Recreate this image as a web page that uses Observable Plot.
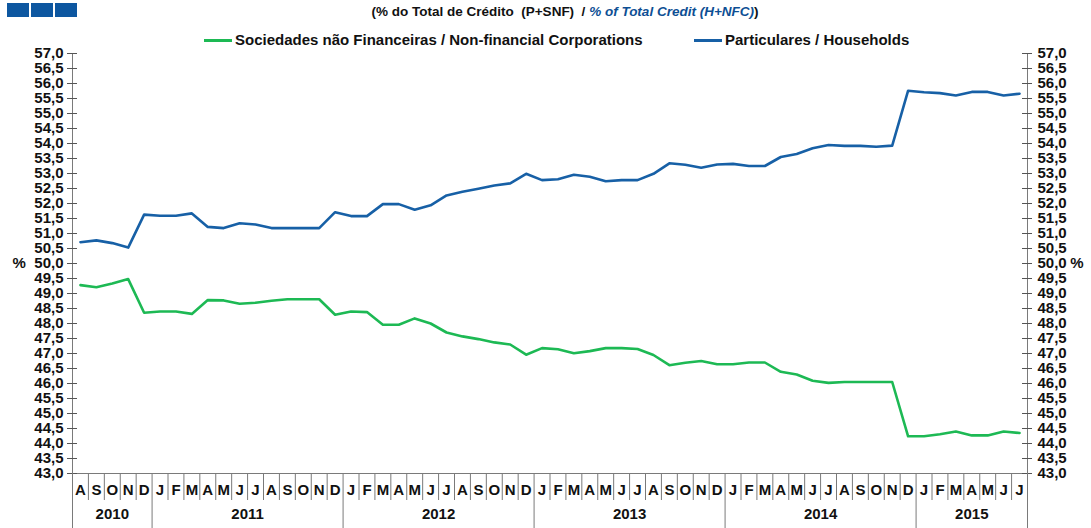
<!DOCTYPE html>
<html>
<head>
<meta charset="utf-8">
<script src="https://cdn.jsdelivr.net/npm/d3@7"></script>
<script src="https://cdn.jsdelivr.net/npm/@observablehq/plot@0.6"></script>
<style>
  html, body { margin: 0; padding: 0; background: #fff; }
  #wrap { position: relative; width: 1091px; height: 528px; overflow: hidden; font-family: "Liberation Sans", Arial, sans-serif; }
  #chart { position: absolute; left: 0; top: 0; }
  .logo { position: absolute; top: 3px; width: 22px; height: 14px; background: #0d57a0; }
  #title { position: absolute; top: 4px; left: 565px; transform: translateX(-50%); white-space: nowrap; font-size: 13.5px; font-weight: bold; color: #111; }
  #title .en { color: #0d4f94; font-style: italic; }
  .leg { position: absolute; top: 31px; white-space: nowrap; font-size: 15px; font-weight: bold; color: #111; }
  .sw { position: absolute; top: 39px; height: 3px; width: 28px; }
</style>
</head>
<body>
<div id="wrap">
  <div id="chart"></div>
  <div class="logo" style="left:7px"></div>
  <div class="logo" style="left:31px"></div>
  <div class="logo" style="left:55px"></div>
  <div id="title">(% do Total de Crédito&nbsp; (P+SNF)&nbsp; / <span class="en">% of Total Credit (H+NFC)</span>)</div>
  <div class="sw" id="sw0" style="left:204px"></div>
  <div class="leg" id="lg0" style="left:235px"></div>
  <div class="sw" id="sw1" style="left:694px"></div>
  <div class="leg" id="lg1" style="left:725px"></div>
</div>
<script>
// ---- data ----
const periods = [
  "2010-08","2010-09","2010-10","2010-11","2010-12",
  "2011-01","2011-02","2011-03","2011-04","2011-05","2011-06","2011-07","2011-08","2011-09","2011-10","2011-11","2011-12",
  "2012-01","2012-02","2012-03","2012-04","2012-05","2012-06","2012-07","2012-08","2012-09","2012-10","2012-11","2012-12",
  "2013-01","2013-02","2013-03","2013-04","2013-05","2013-06","2013-07","2013-08","2013-09","2013-10","2013-11","2013-12",
  "2014-01","2014-02","2014-03","2014-04","2014-05","2014-06","2014-07","2014-08","2014-09","2014-10","2014-11","2014-12",
  "2015-01","2015-02","2015-03","2015-04","2015-05","2015-06","2015-07"
];
const monthLetters = ["J","F","M","A","M","J","J","A","S","O","N","D"];
const years = ["2010","2011","2012","2013","2014","2015"];

const seriesNames = ["Sociedades não Financeiras / Non-financial Corporations", "Particulares / Households"];
const seriesColors = ["#1db954", "#1760a6"];

const corporations = [
  49.28, 49.21, 49.33, 49.48, 48.36,
  48.40, 48.40, 48.32, 48.78, 48.77, 48.66, 48.69, 48.76, 48.81, 48.81, 48.81, 48.29,
  48.40, 48.38, 47.96, 47.96, 48.17, 48.00, 47.70, 47.57, 47.48, 47.37, 47.30, 46.96,
  47.18, 47.14, 47.01, 47.08, 47.18, 47.18, 47.15, 46.95, 46.61, 46.69, 46.75, 46.64,
  46.64, 46.70, 46.70, 46.39, 46.30, 46.09, 46.02, 46.05, 46.05, 46.05, 46.05, 44.24,
  44.24, 44.31, 44.40, 44.27, 44.27, 44.40, 44.35
];
const households = [
  50.71, 50.77, 50.68, 50.53, 51.63,
  51.59, 51.59, 51.67, 51.22, 51.18, 51.34, 51.30, 51.18, 51.18, 51.18, 51.18, 51.71,
  51.58, 51.58, 51.98, 51.98, 51.79, 51.94, 52.27, 52.39, 52.49, 52.60, 52.67, 52.99,
  52.78, 52.81, 52.96, 52.89, 52.74, 52.78, 52.78, 52.99, 53.34, 53.29, 53.19, 53.30,
  53.32, 53.25, 53.25, 53.55, 53.65, 53.84, 53.95, 53.92, 53.92, 53.89, 53.93, 55.76,
  55.71, 55.68, 55.60, 55.72, 55.72, 55.60, 55.66
];

const yTicks = d3.range(43, 57.001, 0.5);
const yUnit = "%";
const yUnitAt = 50;

// ---- layout ----
const W = 1091, H = 528;
const mL = 72, mR = 64, mT = 53, mB = 55;
const xDom = [-0.5, periods.length - 0.5];
const yDom = [43, 57];
const axisColor = "#7a7a7a";
const tickColor = "#555";

const fmt = d => d3.format(".1f")(d).replace(".", ",");
const idx = periods.map((p, i) => i);
const monthOf = p => +p.slice(5) - 1;
const yearOf = p => p.slice(0, 4);

// boundaries
const monthBounds = idx.slice(1).filter(i => monthOf(periods[i]) !== 0).map(i => i - 0.5);
const yearBounds = [xDom[0], ...idx.filter(i => i > 0 && monthOf(periods[i]) === 0).map(i => i - 0.5), xDom[1]];
const yearCenters = years.map(y => {
  const ii = idx.filter(i => yearOf(periods[i]) === y);
  return {year: y, x: (ii[0] + ii[ii.length - 1]) / 2};
});

const chart = Plot.plot({
  width: W, height: H,
  marginLeft: mL, marginRight: mR, marginTop: mT, marginBottom: mB,
  style: {fontFamily: "'Liberation Sans', Arial, sans-serif", fontSize: "15px", fontWeight: "bold", color: "#111", background: "transparent", overflow: "visible"},
  x: {domain: xDom, axis: null},
  y: {domain: yDom, axis: null},
  marks: [
    // axis lines
    Plot.ruleX([xDom[0], xDom[1]], {x: d => d, y1: yDom[0], y2: yDom[1], stroke: axisColor}),
    Plot.ruleY([yDom[0]], {y: d => d, stroke: axisColor}),
    // crossing tick marks
    Plot.ruleY(yTicks, {y: d => d, x1: xDom[0], x2: xDom[0], insetLeft: -5, insetRight: -5, stroke: tickColor}),
    Plot.ruleY(yTicks, {y: d => d, x1: xDom[1], x2: xDom[1], insetLeft: -5, insetRight: -5, stroke: tickColor}),
    // tick labels
    Plot.text(yTicks, {y: d => d, text: fmt, frameAnchor: "left", textAnchor: "end", dx: -9}),
    Plot.text(yTicks, {y: d => d, text: fmt, frameAnchor: "right", textAnchor: "start", dx: 10}),
    Plot.text([yUnit], {y: () => yUnitAt, text: d => d, frameAnchor: "left", dx: -60}),
    Plot.text([yUnit], {y: () => yUnitAt, text: d => d, frameAnchor: "right", dx: 56}),
    // month / year separators below
    Plot.ruleX(monthBounds, {x: d => d, y1: yDom[0], y2: yDom[0], insetBottom: -27, stroke: axisColor}),
    Plot.ruleX(yearBounds, {x: d => d, y1: yDom[0], y2: yDom[0], insetBottom: -55, stroke: axisColor}),
    Plot.text(periods, {x: (d, i) => i, text: d => monthLetters[monthOf(d)], frameAnchor: "bottom", dy: 21}),
    Plot.text(yearCenters, {x: "x", text: "year", frameAnchor: "bottom", dy: 45}),
    // series
    Plot.lineY(corporations, {x: (d, i) => i, y: d => d, stroke: seriesColors[0], strokeWidth: 2.6}),
    Plot.lineY(households, {x: (d, i) => i, y: d => d, stroke: seriesColors[1], strokeWidth: 2.6})
  ]
});
document.getElementById("chart").append(chart);

// legend
seriesNames.forEach((n, k) => {
  document.getElementById("lg" + k).textContent = n;
  document.getElementById("sw" + k).style.background = seriesColors[k];
});
</script>
</body>
</html>
